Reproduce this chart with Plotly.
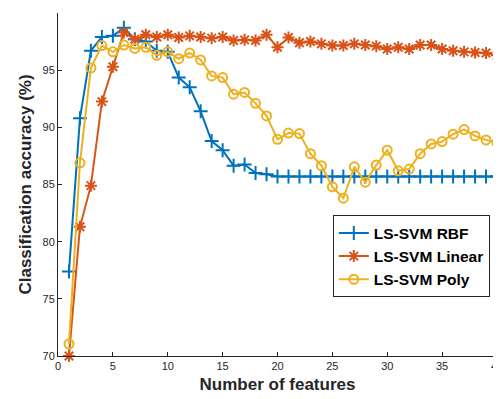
import plotly.graph_objects as go

features = list(range(1, 41))

rbf = [77.4, 90.8, 96.7, 97.9, 98.0, 98.7, 97.7, 97.5, 96.7, 96.6,
       94.35, 93.5, 91.4, 88.8, 88.0, 86.65, 86.75, 86.0, 85.9, 85.7,
       85.7, 85.7, 85.7, 85.7, 85.7, 85.7, 85.7, 85.7, 85.7, 85.7,
       85.7, 85.7, 85.7, 85.7, 85.7, 85.7, 85.7, 85.7, 85.7, 85.7]

linear = [70.0, 81.3, 84.9, 92.25, 95.3, 98.3, 97.7, 98.1, 97.9, 98.1,
          97.85, 98.0, 97.9, 97.8, 97.9, 97.6, 97.65, 97.6, 98.1, 97.0,
          97.85, 97.4, 97.5, 97.3, 97.15, 97.15, 97.3, 97.2, 97.1, 96.85,
          97.0, 96.85, 97.2, 97.2, 96.85, 96.7, 96.6, 96.55, 96.5, 96.3]

poly = [71.05, 86.9, 95.2, 97.15, 96.6, 97.2, 96.9, 97.0, 96.3, 96.6,
        96.0, 96.5, 95.9, 94.5, 94.35, 92.9, 93.05, 92.1, 91.0, 88.95,
        89.5, 89.45, 87.7, 86.65, 84.8, 83.8, 86.55, 85.2, 86.7, 88.0,
        86.2, 86.35, 87.7, 88.55, 88.75, 89.4, 89.8, 89.25, 88.9, 88.65]

names = ["LS-SVM RBF", "LS-SVM Linear", "LS-SVM Poly"]
colors = ["#0072BD", "#D95319", "#EDB120"]
symbols = ["cross-thin-open", "asterisk-open", "circle-open"]
sizes = [10, 10, 9]

fig = go.Figure()
for ys, nm, c, s, sz in zip([rbf, linear, poly], names, colors, symbols, sizes):
    fig.add_trace(go.Scatter(
        x=features, y=ys, name=nm, mode="lines+markers",
        line=dict(color=c, width=2),
        marker=dict(symbol=s, size=sz, color=c, line=dict(color=c, width=2)),
        cliponaxis=False,
    ))

axis_common = dict(
    showline=True, linecolor="#262626", linewidth=1,
    ticks="inside", ticklen=4, tickcolor="#262626", tickwidth=1,
    showgrid=False, zeroline=False, mirror=False, automargin=False,
    tickfont=dict(family="Liberation Sans, Arial", size=11, color="#262626"),
)

# the page body has an 8px margin, so the figure is offset; margins compensate
fig.update_layout(
    width=501, height=399,
    margin=dict(l=50, r=12, t=5, b=51),
    plot_bgcolor="white", paper_bgcolor="white",
    showlegend=True,
    legend=dict(
        x=0.626, y=0.41, xanchor="left", yanchor="top",
        bordercolor="#262626", borderwidth=1, bgcolor="white",
        font=dict(family="Liberation Sans, Arial", size=15.5, color="black", weight="bold"),
        tracegroupgap=0,
    ),
    xaxis=dict(
        range=[0, 40], tickvals=[0, 5, 10, 15, 20, 25, 30, 35, 40],
        title=dict(text="Number of features", standoff=6,
                   font=dict(family="Liberation Sans, Arial", size=17, color="#262626", weight="bold")),
        **axis_common,
    ),
    yaxis=dict(
        range=[70, 100], tickvals=[70, 75, 80, 85, 90, 95, 100],
        title=dict(text="Classification accuracy (%)", standoff=6,
                   font=dict(family="Liberation Sans, Arial", size=17, color="#262626", weight="bold")),
        **axis_common,
    ),
)

fig.write_html("out.html")
